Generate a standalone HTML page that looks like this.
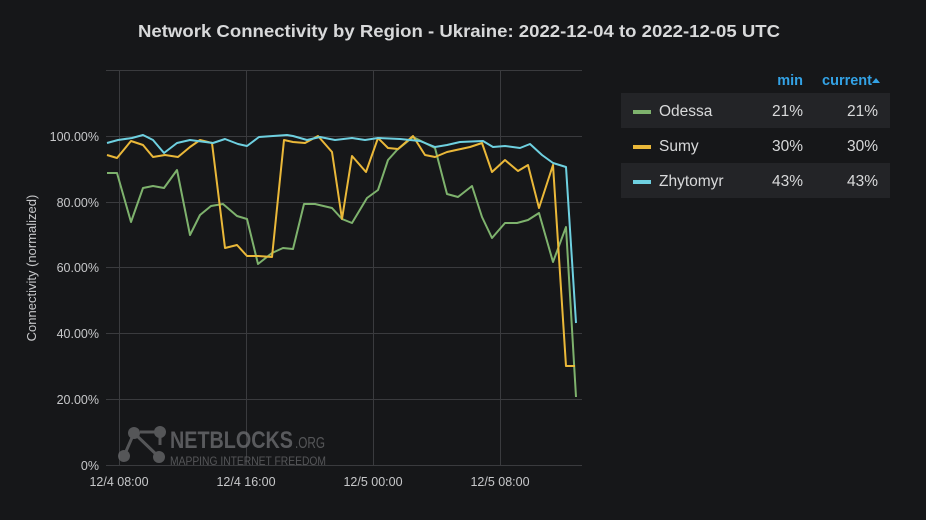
<!DOCTYPE html>
<html><head><style>
body{margin:0;background:#161719;width:926px;height:515px;overflow:hidden;font-family:"Liberation Sans",sans-serif}
</style></head><body>
<svg width="926" height="515" xmlns="http://www.w3.org/2000/svg" font-family="Liberation Sans, sans-serif">
<rect width="926" height="515" fill="#161719"/>
<text x="138" y="37" fill="#d8d9da" font-size="17.5" font-weight="bold" textLength="642" lengthAdjust="spacingAndGlyphs">Network Connectivity by Region - Ukraine: 2022-12-04 to 2022-12-05 UTC</text>
<g stroke="#3a3b3e" stroke-width="1">
<line x1="106" x2="582" y1="70.5" y2="70.5"/>
<line x1="106" x2="582" y1="136.5" y2="136.5"/>
<line x1="106" x2="582" y1="202.5" y2="202.5"/>
<line x1="106" x2="582" y1="267.5" y2="267.5"/>
<line x1="106" x2="582" y1="333.5" y2="333.5"/>
<line x1="106" x2="582" y1="399.5" y2="399.5"/>
<line x1="106" x2="582" y1="465.5" y2="465.5"/>
<line x1="119.5" x2="119.5" y1="70" y2="465"/>
<line x1="246.5" x2="246.5" y1="70" y2="465"/>
<line x1="373.5" x2="373.5" y1="70" y2="465"/>
<line x1="500.5" x2="500.5" y1="70" y2="465"/>
</g>
<g fill="#c7c8ca" font-size="12.5" text-anchor="end">
<text x="99" y="141">100.00%</text>
<text x="99" y="207">80.00%</text>
<text x="99" y="272">60.00%</text>
<text x="99" y="338">40.00%</text>
<text x="99" y="404">20.00%</text>
<text x="99" y="470">0%</text>
</g>
<g fill="#c7c8ca" font-size="12.5" text-anchor="middle">
<text x="119" y="486">12/4 08:00</text>
<text x="246" y="486">12/4 16:00</text>
<text x="373" y="486">12/5 00:00</text>
<text x="500" y="486">12/5 08:00</text>
</g>
<text transform="translate(36,268) rotate(-90)" fill="#c7c8ca" font-size="13" text-anchor="middle">Connectivity (normalized)</text>
<g opacity="0.75">
<g stroke="#6a6b6e" stroke-width="3" fill="none"><path d="M134 433 L124 456 M134 433 L159 457 M140 432 L156 432 M160 432 L160 445"/></g>
<g fill="#6a6b6e"><circle cx="134" cy="433" r="6"/><circle cx="160" cy="432" r="6"/><circle cx="124" cy="456" r="6"/><circle cx="159" cy="457" r="6"/></g>
<text x="170" y="448" fill="#707174" font-size="24" font-weight="bold" textLength="123" lengthAdjust="spacingAndGlyphs">NETBLOCKS</text>
<text x="295" y="448" fill="#6a6b6e" font-size="16" textLength="30" lengthAdjust="spacingAndGlyphs">.ORG</text>
<text x="170" y="465" fill="#6a6b6e" font-size="12" textLength="156" lengthAdjust="spacingAndGlyphs">MAPPING INTERNET FREEDOM</text>
</g>
<g fill="none" stroke-width="2" stroke-linejoin="round">
<polyline stroke="#7eb26d" points="107,173 117,173 131,222 143,188 153,186 164,188 177,170 190,235 200,215 211,206 223,204 237,216 247,219 258,264 272,253 283,248 293,249 304,204 315,204 332,208 342,219 352,223 367,198 378,190 388,160 397,150 413,137 435,148 447,194 458,197 472,186 482,217 492,238 505,223 517,223 528,220 539,213 553,262 566,227 576,397"/>
<polyline stroke="#eab839" points="107,155 117,158 131,141 143,145 153,157 165,155 178,157 190,147 200,140 212,143 225,248 237,245 247,256 258,256 272,257 284,140 293,142 305,143 318,136 332,152 342,219 352,156 366,172 378,138 388,148 398,149 413,136 425,155 435,157 447,152 470,147 482,143 492,172 505,160 518,171 528,165 539,208 553,165 566,366 575,366"/>
<polyline stroke="#6ed0e0" points="107,143 118,140 132,138 143,135 153,140 164,153 177,143 190,140 213,143 225,139 238,144 247,146 259,137 273,136 287,135 293,136 307,140 320,137 335,140 352,138 365,140 378,138 400,139 420,141 435,147 447,145 460,142 483,141 493,147 505,146 520,148 530,144 542,155 553,163 566,167 576,323"/>
</g>
<g font-size="14.5" font-weight="bold" fill="#33a2e5" text-anchor="end">
<text x="803" y="85">min</text>
<text x="872" y="85">current</text>
</g>
<path d="M872 83 L876 78 L880 83 Z" fill="#33a2e5"/>
<rect x="621" y="93" width="269" height="35" fill="#232427"/>
<rect x="621" y="163" width="269" height="35" fill="#232427"/>
<g font-size="15.5" fill="#d8d9da">
<rect x="633" y="110" width="18" height="4" fill="#7eb26d"/>
<text x="659" y="116">Odessa</text><text x="803" y="116" text-anchor="end">21%</text><text x="878" y="116" text-anchor="end">21%</text>
<rect x="633" y="145" width="18" height="4" fill="#eab839"/>
<text x="659" y="151">Sumy</text><text x="803" y="151" text-anchor="end">30%</text><text x="878" y="151" text-anchor="end">30%</text>
<rect x="633" y="180" width="18" height="4" fill="#6ed0e0"/>
<text x="659" y="186">Zhytomyr</text><text x="803" y="186" text-anchor="end">43%</text><text x="878" y="186" text-anchor="end">43%</text>
</g>
</svg>
</body></html>
